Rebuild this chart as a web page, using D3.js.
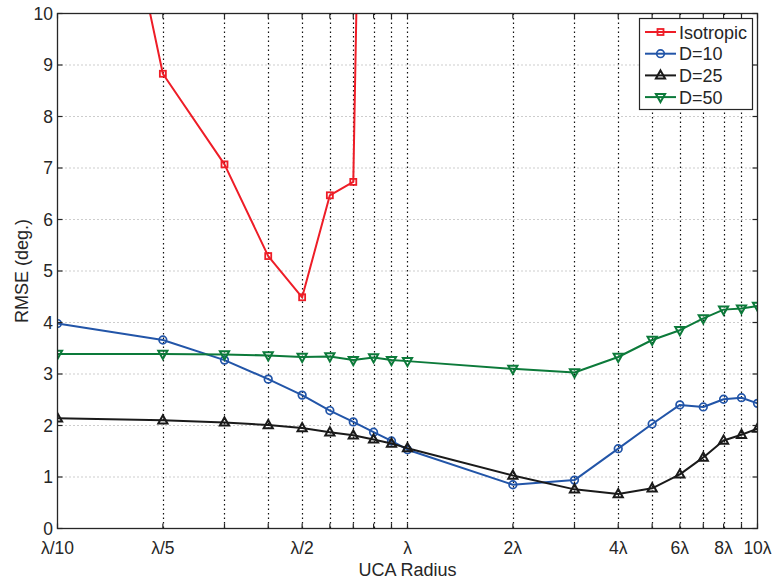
<!DOCTYPE html>
<html>
<head>
<meta charset="utf-8">
<script src="https://cdn.jsdelivr.net/npm/d3@7"></script>
<style>
  html, body { margin: 0; padding: 0; background: #fff; }
  svg { display: block; }
  text { font-family: "Liberation Sans", Arial, sans-serif; fill: #262626; }
</style>
</head>
<body>
<svg id="chart" width="774" height="584"></svg>
<script>
// ---- data ----
const radii = [0.1, 0.2, 0.3, 0.4, 0.5, 0.6, 0.7, 0.8, 0.9, 1, 2, 3, 4, 5, 6, 7, 8, 9, 10];
const isotropicX = [0.1, 0.2, 0.3, 0.4, 0.5, 0.6, 0.7, 0.8];
const isotropic  = [18.5, 8.83, 7.07, 5.29, 4.49, 6.47, 6.73, 28.5];
const d10 = [3.98, 3.66, 3.27, 2.90, 2.59, 2.29, 2.07, 1.87, 1.70, 1.53, 0.85, 0.94, 1.55, 2.03, 2.40, 2.36, 2.51, 2.54, 2.43];
const d25 = [2.14, 2.10, 2.06, 2.01, 1.95, 1.87, 1.81, 1.73, 1.65, 1.56, 1.03, 0.76, 0.67, 0.78, 1.05, 1.38, 1.71, 1.82, 1.94];
const d50 = [3.39, 3.39, 3.38, 3.36, 3.33, 3.34, 3.27, 3.32, 3.27, 3.25, 3.10, 3.03, 3.33, 3.66, 3.85, 4.08, 4.25, 4.27, 4.32];
const seriesNames = ["Isotropic", "D=10", "D=25", "D=50"];
const xTickValues = [0.1, 0.2, 0.5, 1, 2, 4, 6, 8, 10];
const xTickLabels = ["λ/10", "λ/5", "λ/2", "λ", "2λ", "4λ", "6λ", "8λ", "10λ"];
const yTickValues = [0, 1, 2, 3, 4, 5, 6, 7, 8, 9, 10];
const xLabel = "UCA Radius";
const yLabel = "RMSE (deg.)";

// ---- layout ----
const svg = d3.select("#chart");
const m = { left: 57.5, right: 757.5, top: 13.5, bottom: 528.5 };
const x = d3.scaleLog().domain([0.1, 10]).range([m.left, m.right]);
const y = d3.scaleLinear().domain([0, 10]).range([m.bottom, m.top]);

const series = [
  { name: seriesNames[0], xs: isotropicX, ys: isotropic, color: "#ee1d27", marker: "square" },
  { name: seriesNames[1], xs: radii, ys: d10, color: "#2255a8", marker: "circle" },
  { name: seriesNames[2], xs: radii, ys: d25, color: "#1a1a1a", marker: "triUp" },
  { name: seriesNames[3], xs: radii, ys: d50, color: "#0c7a3a", marker: "triDown" }
];

// grid
const g = svg.append("g");
g.selectAll(".hgrid").data(yTickValues.slice(1, -1)).join("line")
  .attr("x1", m.left).attr("x2", m.right)
  .attr("y1", d => y(d)).attr("y2", d => y(d))
  .attr("stroke", "#9a9a9a").attr("stroke-width", 1).attr("stroke-dasharray", "1,3");
g.selectAll(".vgrid").data(radii.slice(1, -1)).join("line")
  .attr("x1", d => Math.round(x(d)) + 0.5).attr("x2", d => Math.round(x(d)) + 0.5)
  .attr("y1", m.top).attr("y2", m.bottom)
  .attr("stroke", "#111").attr("stroke-width", 1.2).attr("stroke-dasharray", "1.5,3");

// clip
svg.append("clipPath").attr("id", "clip").append("rect")
  .attr("x", m.left).attr("y", m.top).attr("width", m.right - m.left).attr("height", m.bottom - m.top);

const line = d3.line().x(d => x(d[0])).y(d => y(d[1]));
const plot = svg.append("g").attr("clip-path", "url(#clip)");

function drawMarker(sel, type, color) {
  if (type === "square") {
    sel.append("rect").attr("x", -3).attr("y", -3).attr("width", 6).attr("height", 6)
      .attr("fill", "none").attr("stroke", color).attr("stroke-width", 1.8);
  } else if (type === "circle") {
    sel.append("circle").attr("r", 3.8).attr("fill", "none").attr("stroke", color).attr("stroke-width", 1.7);
  } else if (type === "triUp") {
    sel.append("path").attr("d", "M0,-5 L4.6,3.2 L-4.6,3.2 Z").attr("fill", "none").attr("stroke", color).attr("stroke-width", 2);
  } else {
    sel.append("path").attr("d", "M0,5 L4.6,-3.2 L-4.6,-3.2 Z").attr("fill", "none").attr("stroke", color).attr("stroke-width", 2);
  }
}

series.forEach(s => {
  const pts = s.xs.map((xv, i) => [xv, s.ys[i]]);
  plot.append("path").datum(pts).attr("d", line)
    .attr("fill", "none").attr("stroke", s.color).attr("stroke-width", 2).attr("stroke-linejoin", "round");
  pts.filter(p => p[1] <= 10).forEach(p => {
    const mk = plot.append("g").attr("transform", `translate(${x(p[0])},${y(p[1])})`);
    drawMarker(mk, s.marker, s.color);
  });
});

// axes box
svg.append("rect").attr("x", m.left).attr("y", m.top).attr("width", m.right - m.left).attr("height", m.bottom - m.top)
  .attr("fill", "none").attr("stroke", "#262626").attr("stroke-width", 1.3);

// ticks (inward)
const tl = 5;
radii.forEach(v => {
  const px = x(v);
  svg.append("line").attr("x1", px).attr("x2", px).attr("y1", m.bottom).attr("y2", m.bottom - tl).attr("stroke", "#262626").attr("stroke-width", 1.2);
  svg.append("line").attr("x1", px).attr("x2", px).attr("y1", m.top).attr("y2", m.top + tl).attr("stroke", "#262626").attr("stroke-width", 1.2);
});
yTickValues.forEach(v => {
  const py = y(v);
  svg.append("line").attr("x1", m.left).attr("x2", m.left + tl).attr("y1", py).attr("y2", py).attr("stroke", "#262626").attr("stroke-width", 1.2);
  svg.append("line").attr("x1", m.right).attr("x2", m.right - tl).attr("y1", py).attr("y2", py).attr("stroke", "#262626").attr("stroke-width", 1.2);
});

// tick labels
svg.selectAll(".xl").data(xTickValues).join("text")
  .attr("x", d => x(d)).attr("y", 554).attr("text-anchor", "middle")
  .style("font-size", "17.5px").text((d, i) => xTickLabels[i]);
svg.selectAll(".yl").data(yTickValues).join("text")
  .attr("x", 53).attr("y", d => y(d) + 6).attr("text-anchor", "end")
  .style("font-size", "17.5px").text(d => d);

// axis labels
svg.append("text").attr("x", (m.left + m.right) / 2).attr("y", 576).attr("text-anchor", "middle")
  .style("font-size", "18px").text(xLabel);
svg.append("text").attr("transform", `translate(27.5,${(m.top + m.bottom) / 2}) rotate(-90)`)
  .attr("text-anchor", "middle").style("font-size", "18px").text(yLabel);

// legend
const lg = svg.append("g");
lg.append("rect").attr("x", 639.5).attr("y", 18.5).attr("width", 113).attr("height", 91)
  .attr("fill", "#fff").attr("stroke", "#262626").attr("stroke-width", 1.2);
series.forEach((s, i) => {
  const cy = 32 + i * 21.7;
  lg.append("line").attr("x1", 645).attr("x2", 676).attr("y1", cy).attr("y2", cy)
    .attr("stroke", s.color).attr("stroke-width", 2);
  const mk = lg.append("g").attr("transform", `translate(660.5,${cy})`);
  drawMarker(mk, s.marker, s.color);
  lg.append("text").attr("x", 679).attr("y", cy + 6.5).style("font-size", "18px").text(s.name);
});
</script>
</body>
</html>
